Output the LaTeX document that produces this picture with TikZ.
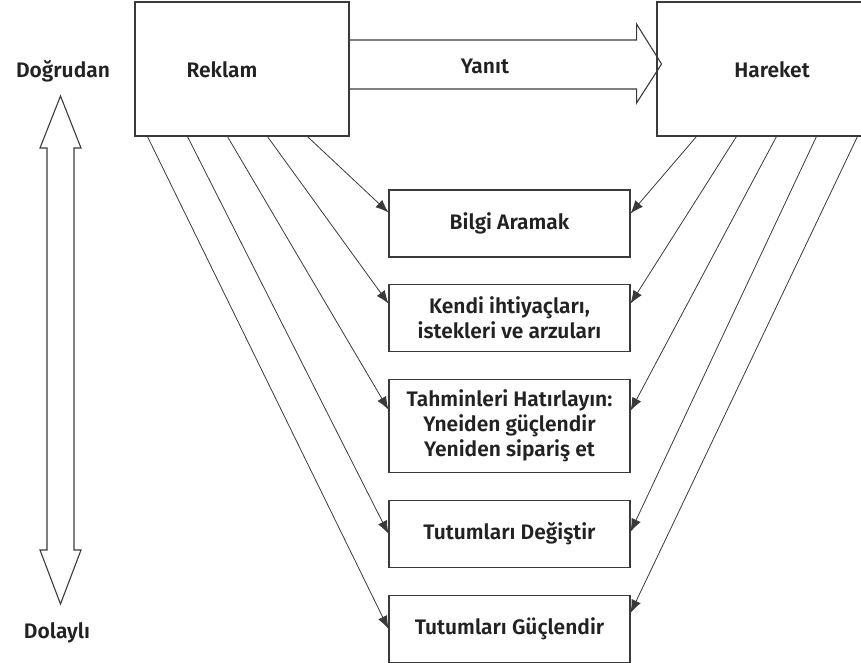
\documentclass[tikz,border=0pt]{standalone}
\usepackage{fontspec}
\setmainfont{Fira Sans}[UprightFont={* SemiBold}]
\usetikzlibrary{positioning,calc,arrows.meta}
\definecolor{linegray}{HTML}{3A3A3A}
\definecolor{textgray}{HTML}{222222}
\tikzset{
	box/.style={draw=linegray, line width=1.1pt, minimum width=241pt, minimum height=67pt, align=center, inner sep=0pt},
	bigbox/.style={draw=linegray, line width=1.1pt, minimum height=134pt},
	conn/.style={draw=linegray, line width=0.8pt, -{Latex[length=13pt,width=10pt]}},
	hollow/.style={draw=linegray, line width=1.1pt, line join=miter},
	lbl/.style={text=textgray, anchor=base}
}

\begin{document}
\begin{tikzpicture}[x=1pt, y=-1pt, every node/.style={text=textgray, font=\fontsize{21}{25}\selectfont}]
	\useasboundingbox (0,0) rectangle (861,663);

	\node[bigbox, minimum width=214pt] (reklam) at (242,69) {};
	\node[bigbox, minimum width=206pt] (hareket) at (760,69) {};
	\node[lbl] at (222,78) {Reklam};
	\node[lbl] at (772,78) {Hareket};

	\node[box] (bilgi) at (509.5,223.5) {Bilgi Aramak};
	\node[box, below=26pt of bilgi] (kendi) {Kendi ihtiyaçları,\\istekleri ve arzuları};
	\node[box, below=27pt of kendi, minimum height=93pt] (tahmin) {Tahminleri Hatırlayın:\\Yneiden güçlendir\\Yeniden sipariş et};
	\node[box, below=27pt of tahmin] (degis) {Tutumları Değiştir};
	\node[box, below=27pt of degis] (guc) {Tutumları Güçlendir};

	\draw[hollow] ($(reklam.east)+(0,-29)$) -- ++(287,0) -- ++(0,-16) -- ++(25,40)
		-- ++(-25,39) -- ++(0,-14) -- ++(-287,0);
	\node[lbl] at (485,74) {Yanıt};

	\coordinate (top) at (60.5,96);
	\draw[hollow] (top) -- ++(20.5,52) -- ++(-7,0) -- ++(0,402) -- ++(7,0) -- ++(-20.5,54)
		-- ++(-20.5,-54) -- ++(7,0) -- ++(0,-402) -- ++(-7,0) -- cycle;
	\node[lbl] at (63,78) {Doğrudan};
	\node[lbl] at (57,638) {Dolaylı};

	\draw[conn] ($(reklam.south west)+(173,0)$) -- ($(bilgi.west)+(0,-11)$);
	\draw[conn] ($(reklam.south west)+(133,0)$) -- ($(kendi.west)+(0,-14)$);
	\draw[conn] ($(reklam.south west)+(93,0)$) -- ($(tahmin.west)+(0,-16)$);
	\draw[conn] ($(reklam.south west)+(53,0)$) -- (degis.west);
	\draw[conn] ($(reklam.south west)+(13,0)$) -- (guc.west);

	\draw[conn] ($(hareket.south west)+(40,0)$) -- ($(bilgi.east)+(0,-10)$);
	\draw[conn] ($(hareket.south west)+(80,0)$) -- ($(kendi.east)+(0,-14)$);
	\draw[conn] ($(hareket.south west)+(120,0)$) -- ($(tahmin.east)+(0,-15)$);
	\draw[conn] ($(hareket.south west)+(160,0)$) -- ($(degis.east)+(0,-2)$);
	\draw[conn] ($(hareket.south west)+(201,0)$) -- ($(guc.east)+(0,-16)$);
\end{tikzpicture}
\end{document}
